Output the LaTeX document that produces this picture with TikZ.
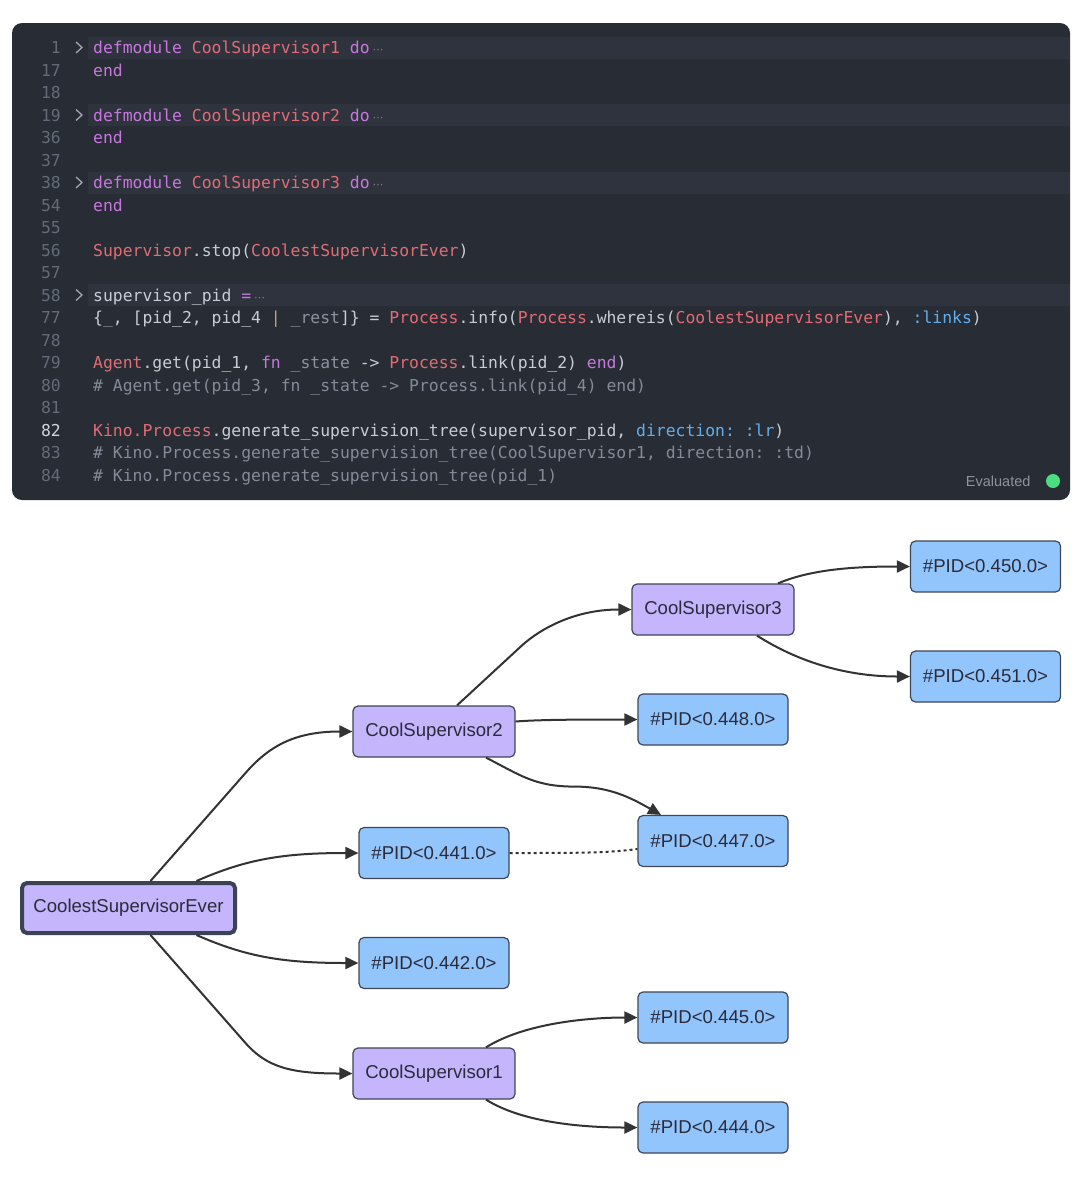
\documentclass[tikz,border=0pt]{standalone}
\usepackage{fontspec}
\setmainfont{Liberation Sans}
\setmonofont{DejaVu Sans Mono}
\newfontfamily\symfont{DejaVu Sans}
\usetikzlibrary{arrows.meta}

\newcommand\codefont{\ttfamily\fontsize{16.4}{20}\selectfont}
\newcommand\kwd[1]{\textcolor{kwcol}{#1}}
\newcommand\mdl[1]{\textcolor{mdcol}{#1}}
\newcommand\atm[1]{\textcolor{atcol}{#1}}
\newcommand\cmt[1]{\textcolor{cmtcol}{#1}}
\newcommand\dmt[1]{\textcolor{dimcol}{#1}}
\newcommand\orn[1]{\textcolor{orcol}{#1}}
\newcommand\fold{\hspace{3pt}{\symfont\fontsize{11}{11}\selectfont\textcolor{foldcol}{⋯}}}

\begin{document}
\begin{tikzpicture}[x=1pt,y=-1pt,
  box/.style={rectangle,rounded corners=5pt,draw=boxline,line width=1.2pt,text=ink,
    font=\fontsize{18.6}{22}\selectfont,minimum height=51pt},
  supnode/.style={box,fill=supfill,minimum width=162pt},
  pidnode/.style={box,fill=pidfill,minimum width=150pt},
  edge/.style={draw=edgecol,line width=2pt,-{Triangle[length=13pt,width=12pt]}},
  codeline/.style={anchor=base west,inner sep=0pt,text=plain,font=\codefont},
  lnum/.style={anchor=base east,inner sep=0pt,font=\codefont},
  chev/.style={draw=chevcol,line width=1.3pt}]
\definecolor{panel}{HTML}{282C34}
\definecolor{hlbar}{HTML}{2F333D}
\definecolor{numcol}{HTML}{636B78}
\definecolor{numhi}{HTML}{D0D4DC}
\definecolor{foldcol}{HTML}{7A808A}
\definecolor{plain}{HTML}{C8CCD4}
\definecolor{kwcol}{HTML}{C678DD}
\definecolor{mdcol}{HTML}{E06C75}
\definecolor{atcol}{HTML}{61AFEF}
\definecolor{cmtcol}{HTML}{848B98}
\definecolor{dimcol}{HTML}{8C929E}
\definecolor{orcol}{HTML}{C9A26A}
\definecolor{chevcol}{HTML}{A0A6B0}
\definecolor{evalcol}{HTML}{8E949E}
\definecolor{okgreen}{HTML}{4ADE80}
\definecolor{supfill}{HTML}{C4B5FD}
\definecolor{pidfill}{HTML}{93C5FD}
\definecolor{boxline}{HTML}{3F4656}
\definecolor{rootline}{HTML}{3B4252}
\definecolor{ink}{HTML}{2B2B3A}
\definecolor{edgecol}{HTML}{333333}
\useasboundingbox (0,0) rectangle (1085,1200);
\fill[white] (0,0) rectangle (1085,1200);

% code cell
\fill[panel,rounded corners=10pt] (12,23) rectangle (1070,500);
\foreach \row in {0,3,6,11}
{ \fill[hlbar] (88,36.5+22.5*\row) rectangle (1070,58.5+22.5*\row);
  \draw[chev] (76,42+22.5*\row) -- (82,47.5+22.5*\row) -- (76,53+22.5*\row);}
\foreach \num/\row in {1/0,17/1,18/2,19/3,36/4,37/5,38/6,54/7,55/8,56/9,57/10,58/11,77/12,78/13,79/14,80/15,81/16,83/18,84/19}
{ \node[lnum,text=numcol] (n\num) at (61,53.5+22.5*\row) {\num};}
\node[lnum,text=numhi] (n82) at (61,53.5+22.5*17) {82};

\node[codeline] (c1) at (93,53.5) {\kwd{defmodule} \mdl{CoolSupervisor1} \kwd{do}\fold};
\node[codeline] (c17) at (93,53.5+22.5*1) {\kwd{end}};
\node[codeline] (c19) at (93,53.5+22.5*3) {\kwd{defmodule} \mdl{CoolSupervisor2} \kwd{do}\fold};
\node[codeline] (c36) at (93,53.5+22.5*4) {\kwd{end}};
\node[codeline] (c38) at (93,53.5+22.5*6) {\kwd{defmodule} \mdl{CoolSupervisor3} \kwd{do}\fold};
\node[codeline] (c54) at (93,53.5+22.5*7) {\kwd{end}};
\node[codeline] (c56) at (93,53.5+22.5*9) {\mdl{Supervisor}.stop(\mdl{CoolestSupervisorEver})};
\node[codeline] (c58) at (93,53.5+22.5*11) {supervisor\_pid \kwd{=}\fold};
\node[codeline] (c77) at (93,53.5+22.5*12) {\{\dmt{\_}, [pid\_2, pid\_4 \orn{|} \dmt{\_rest}]\} = \mdl{Process}.info(\mdl{Process}.whereis(\mdl{CoolestSupervisorEver}), \atm{:links})};
\node[codeline] (c79) at (93,53.5+22.5*14) {\mdl{Agent}.get(pid\_1, \kwd{fn} \dmt{\_state} -> \mdl{Process}.link(pid\_2) \kwd{end})};
\node[codeline] (c80) at (93,53.5+22.5*15) {\cmt{\# Agent.get(pid\_3, fn \_state -> Process.link(pid\_4) end)}};
\node[codeline] (c82) at (93,53.5+22.5*17) {\mdl{Kino.Process}.generate\_supervision\_tree(supervisor\_pid, \atm{direction: :lr})};
\node[codeline] (c83) at (93,53.5+22.5*18) {\cmt{\# Kino.Process.generate\_supervision\_tree(CoolSupervisor1, direction: :td)}};
\node[codeline] (c84) at (93,53.5+22.5*19) {\cmt{\# Kino.Process.generate\_supervision\_tree(pid\_1)}};

\node[anchor=east,text=evalcol,font=\fontsize{14.5}{16}\selectfont] (evald) at (1034,481) {Evaluated};
\node[circle,fill=okgreen,inner sep=0pt,minimum size=14pt] (dot) at (1053,481) {};

% supervision tree
\node[supnode,line width=4pt,draw=rootline,minimum width=213pt,minimum height=50pt] (root) at (128.5,908) {CoolestSupervisorEver};
\node[supnode] (cs2) at (434,731.5) {CoolSupervisor2};
\node[supnode] (cs1) at (434,1073.5) {CoolSupervisor1};
\node[supnode] (cs3) at (713,609.5) {CoolSupervisor3};
\foreach \nm/\px/\py in {441/434/853,442/434/963,448/713/719.5,447/713/841,445/713/1017.5,444/713/1127.5,450/985.5/566.5,451/985.5/676.5}
{ \node[pidnode] (p\nm) at (\px,\py) {\#PID<0.\nm.0>};}

\draw[edge] ([xshift=22pt]root.north) -- ++(95,-108) .. controls +(22,-25) and +(-60,0) .. (cs2.west);
\draw[edge] ([xshift=68pt]root.north) .. controls +(50,-22) and +(-75,0) .. (p441.west);
\draw[edge] ([xshift=68pt]root.south) .. controls +(50,22) and +(-75,0) .. (p442.west);
\draw[edge] ([xshift=22pt]root.south) -- ++(95,108) .. controls +(22,25) and +(-60,0) .. (cs1.west);
\draw[edge] ([xshift=23pt]cs2.north) -- ++(65,-60) .. controls +(20,-18) and +(-55,0) .. (cs3.west);
\draw[edge] ([yshift=10pt]cs2.east) .. controls +(25,-2) and +(-50,0) .. (p448.west);
\draw[edge] ([xshift=52pt]cs2.south) .. controls +(35,18) and +(-40,0) .. ++(89,29)
  .. controls +(35,0) and +(-30,-17) .. ([xshift=-52pt]p447.north);
\draw[draw=edgecol,line width=2pt,dash pattern=on 3pt off 3pt] (p441.east) .. controls +(70,0) and +(-30,4) .. ([yshift=-8pt]p447.west);
\draw[edge] ([xshift=52pt]cs1.north) .. controls +(38,-24) and +(-50,0) .. (p445.west);
\draw[edge] ([xshift=52pt]cs1.south) .. controls +(38,24) and +(-50,0) .. (p444.west);
\draw[edge] ([xshift=65pt]cs3.north) .. controls +(35,-15) and +(-50,0) .. (p450.west);
\draw[edge] ([xshift=44pt]cs3.south) .. controls +(55,35) and +(-45,0) .. (p451.west);
\end{tikzpicture}
\end{document}
